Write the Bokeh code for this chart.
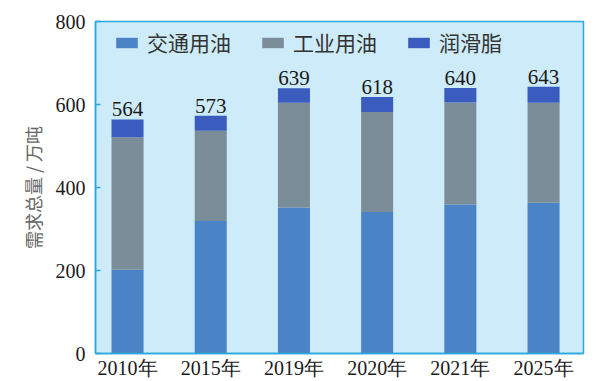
from bokeh.plotting import figure
from bokeh.models import ColumnDataSource, Range1d, FixedTicker, Legend, LegendItem
from bokeh.core.properties import value
from bokeh.embed import file_html
from bokeh.resources import INLINE

years = ["2010年", "2015年", "2019年", "2020年", "2021年", "2025年"]
transport = [202, 319, 352, 341, 359, 363]
industry = [319, 218, 252, 241, 246, 241]
grease = [43, 36, 35, 36, 35, 39]
totals = [564, 573, 639, 618, 640, 643]
total_labels = ["564", "573", "639", "618", "640", "643"]
series_names = ["交通用油", "工业用油", "润滑脂"]
colors = ["#4a84c6", "#7b8d99", "#3a5cbf"]

xs = list(range(len(years)))
bottom2 = transport
bottom3 = [a + b for a, b in zip(transport, industry)]
top3 = [a + b for a, b in zip(bottom3, grease)]

src = ColumnDataSource(dict(
    x=xs, t=transport, b2=bottom2, i_top=bottom3, b3=bottom3, g_top=top3,
    tot=totals, lab=total_labels))

SERIF = "Liberation Serif"
CJK = "Noto Sans CJK SC"

p = figure(width=598, height=381, output_backend="svg", toolbar_location=None,
           x_range=Range1d(-0.385, 5.48), y_range=Range1d(0, 800),
           min_border_left=95, min_border_right=15, min_border_top=21, min_border_bottom=25)

p.background_fill_color = "#cdebf8"
p.border_fill_color = "white"
p.outline_line_color = "#2aa8e0"
p.outline_line_width = 1.5
p.grid.visible = False

bw = 0.385
r1 = p.vbar(x="x", top="t", bottom=0, width=bw, source=src, fill_color=colors[0], line_color=None)
r2 = p.vbar(x="x", top="i_top", bottom="b2", width=bw, source=src, fill_color=colors[1], line_color=None)
r3 = p.vbar(x="x", top="g_top", bottom="b3", width=bw, source=src, fill_color=colors[2], line_color=None)

p.text(x="x", y="tot", text="lab", source=src, text_align="center", text_baseline="bottom",
       y_offset=-3, text_font=value("Liberation Serif"), text_font_size="21px", text_color="#1a1a1a")

# axes
p.xaxis.ticker = FixedTicker(ticks=xs)
p.xaxis.major_label_overrides = {i: y for i, y in enumerate(years)}
p.xaxis.major_tick_line_color = None
p.xaxis.minor_tick_line_color = None
p.xaxis.axis_line_color = "#2aa8e0"
p.xaxis.axis_line_width = 1.5
p.xaxis.major_label_text_font = SERIF
p.xaxis.major_label_text_font_size = "20px"
p.xaxis.major_label_text_color = "#1a1a1a"
p.xaxis.major_label_standoff = -3

p.yaxis.ticker = FixedTicker(ticks=[0, 200, 400, 600, 800])
p.yaxis.major_tick_in = 5
p.yaxis.major_tick_out = 0
p.yaxis.minor_tick_line_color = None
p.yaxis.major_tick_line_color = "#2aa8e0"
p.yaxis.major_tick_line_width = 1.5
p.yaxis.axis_line_color = "#2aa8e0"
p.yaxis.axis_line_width = 1.5
p.yaxis.major_label_text_font = SERIF
p.yaxis.major_label_text_font_size = "20px"
p.yaxis.major_label_text_color = "#1a1a1a"
p.yaxis.major_label_standoff = 10
p.yaxis.axis_label = "需求总量 / 万吨"
p.yaxis.axis_label_text_font = CJK
p.yaxis.axis_label_text_font_style = "normal"
p.yaxis.axis_label_text_font_size = "18px"
p.yaxis.axis_label_text_color = "#666666"
p.yaxis.axis_label_standoff = 7

legend = Legend(items=[LegendItem(label=series_names[0], renderers=[r1]),
                       LegendItem(label=series_names[1], renderers=[r2]),
                       LegendItem(label=series_names[2], renderers=[r3])],
                orientation="horizontal",
                glyph_width=27, glyph_height=13, label_standoff=7, spacing=28,
                padding=0, margin=0, border_line_color=None, background_fill_alpha=0,
                label_text_font=CJK, label_text_font_size="21px", label_text_color="#333333")
legend.location = (18, 296)
p.add_layout(legend, "center")

open("out.html", "w").write(file_html(p, INLINE))
